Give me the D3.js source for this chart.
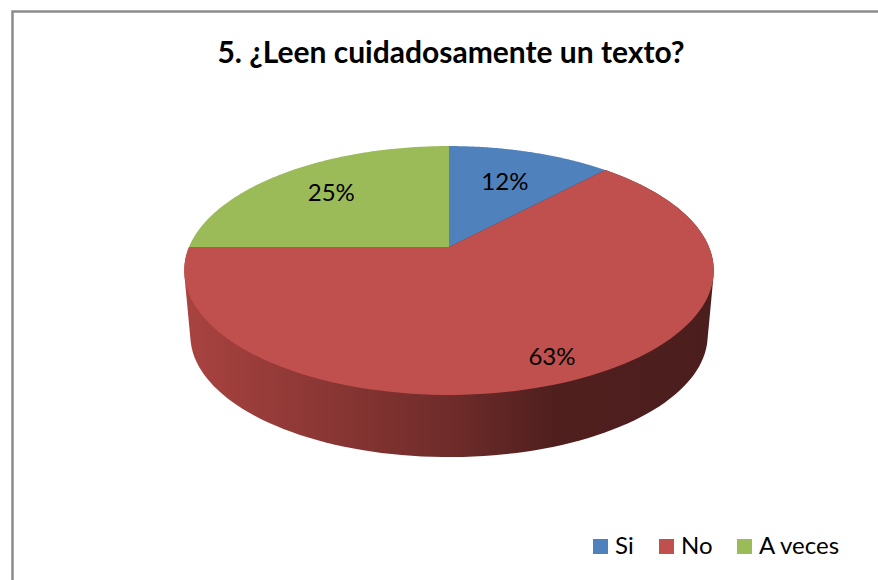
<!DOCTYPE html>
<html lang="es">
<head>
<meta charset="utf-8">
<title>5. ¿Leen cuidadosamente un texto?</title>
<script src="https://cdnjs.cloudflare.com/ajax/libs/d3/7.8.5/d3.min.js"></script>
<style>
  html, body { margin: 0; padding: 0; background: #fff; }
  svg { display: block; }
  text { font-family: Lato, "Open Sans", sans-serif; fill: #000; }
</style>
</head>
<body>
<script>
// Survey answers, in percent
const categories = ["Si", "No", "A veces"];
const percentages = [12, 63, 25];
const sliceColors = ["#4f81bd", "#c0504d", "#9bbb59"];
const chartTitle = "5. ¿Leen cuidadosamente un texto?";

const width = 878, height = 580;

// Tilted disc: a projective map of the unit circle, so the apex sits above the ellipse centre
const tilt = -0.1888;
const topFace = { cx: 449, cy: 247, rx: 260, ry: 120 };
const bottomFace = { cx: 449, cy: 312.5, rx: 254, ry: 117.3 };
const project = (face, angle, r = 1) => {
  const X = r * Math.sin(angle), Y = -r * Math.cos(angle);
  const w = 1 + tilt * Y;
  return [face.cx + face.rx * X / w, face.cy + face.ry * Y / w];
};

const svg = d3.select("body").append("svg")
  .attr("width", width).attr("height", height);

// Chart frame: only the top and left edges fall inside the canvas
svg.append("path")
  .attr("d", `M12.5,${height}V11.5H${width}`)
  .attr("fill", "none").attr("stroke", "#8c8c8c").attr("stroke-width", 2.5);

svg.append("text")
  .attr("x", 451).attr("y", 63)
  .attr("text-anchor", "middle")
  .attr("font-size", 30).attr("font-weight", 700)
  .text(chartTitle);

const slices = d3.pie().sort(null).value(d => d)(percentages);
const rimAngles = s => d3.range(0, 121).map(i => d3.interpolateNumber(s.startAngle, s.endAngle)(i / 120));

// Shading of the outer wall, light on the left and dark towards the right
const shade = svg.append("defs").append("linearGradient")
  .attr("id", "wall").attr("gradientUnits", "userSpaceOnUse")
  .attr("x1", 184).attr("x2", 714).attr("y1", 0).attr("y2", 0);
[[0, 0.88], [0.5, 0.58], [0.7, 0.41], [1, 0.39]].forEach(([offset, k]) => {
  const c = d3.rgb(sliceColors[1]);
  shade.append("stop").attr("offset", offset)
    .attr("stop-color", d3.rgb(c.r * k, c.g * k * 0.95, c.b * k * 0.95).formatHex());
});

const line = d3.line().curve(d3.curveLinearClosed);

// Walls: the silhouette of the upper and lower rims, for slices reaching the front of the disc
const facesFront = s => s.startAngle < 1.5 * Math.PI && s.endAngle > 0.5 * Math.PI;
svg.append("g").selectAll("path").data(slices.filter(facesFront)).join("path")
  .attr("d", s => line(d3.polygonHull(rimAngles(s).flatMap(a => [project(topFace, a), project(bottomFace, a)]))))
  .attr("fill", "url(#wall)");

// Top face
svg.append("g").selectAll("path").data(slices).join("path")
  .attr("d", s => line([[topFace.cx, topFace.cy], ...rimAngles(s).map(a => project(topFace, a))]))
  .attr("fill", (s, i) => sliceColors[i]);

// Value labels, at a per-slice fraction of the radius
const labelRadius = [0.65, 0.85, 0.7];
svg.append("g").selectAll("text").data(slices).join("text")
  .each(function (s, i) {
    const [x, y] = project(topFace, (s.startAngle + s.endAngle) / 2, labelRadius[i]);
    d3.select(this).attr("x", x).attr("y", y + 8);
  })
  .attr("text-anchor", "middle")
  .attr("font-size", 24)
  .text(s => `${s.data}%`);

// Legend along the bottom right
const legendX = d3.scaleOrdinal().domain(categories).range([593, 659, 737]);
const legend = svg.append("g").selectAll("g").data(categories).join("g")
  .attr("transform", d => `translate(${legendX(d)},539)`);
legend.append("rect")
  .attr("width", 15).attr("height", 15)
  .attr("fill", (d, i) => sliceColors[i]);
legend.append("text")
  .attr("x", 22).attr("y", 15)
  .attr("font-size", 24)
  .text(d => d);
</script>
</body>
</html>
